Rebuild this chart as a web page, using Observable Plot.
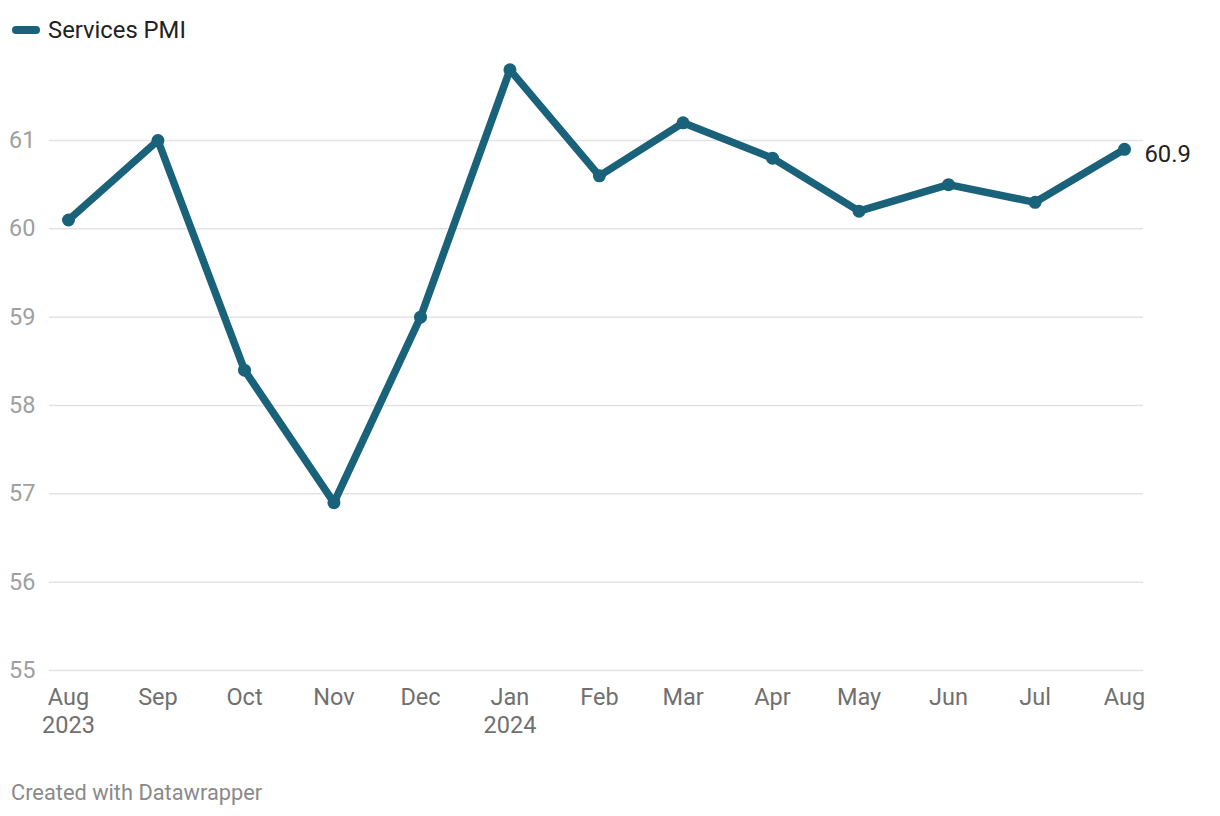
<!DOCTYPE html>
<html>
<head>
<meta charset="utf-8">
<script src="https://cdn.jsdelivr.net/npm/d3@7"></script>
<script src="https://cdn.jsdelivr.net/npm/@observablehq/plot@0.6"></script>
<style>
  html, body { margin: 0; padding: 0; background: #fff; font-family: Roboto, sans-serif; }
  #legend { height: 50px; position: relative; }
  #legend .sw { position: absolute; left: 12px; top: 26px; width: 28px; height: 8px; border-radius: 4px; background: #19627a; }
  #legend .lab { position: absolute; left: 48px; top: 16px; font-size: 23.8px; line-height: 28px; color: #222; }
  #footer { margin-top: 10px; padding-left: 11px; font-size: 21.8px; line-height: 26px; color: #8a8a8a; }
  svg { display: block; }
</style>
</head>
<body>
<div id="legend"><div class="sw"></div><div class="lab">Services PMI</div></div>
<div id="chart"></div>
<div id="footer">Created with Datawrapper</div>
<script>
const months = ["2023-08-01","2023-09-01","2023-10-01","2023-11-01","2023-12-01","2024-01-01","2024-02-01","2024-03-01","2024-04-01","2024-05-01","2024-06-01","2024-07-01","2024-08-01"];
const pmi = [60.1, 61.0, 58.4, 56.9, 59.0, 61.8, 60.6, 61.2, 60.8, 60.2, 60.5, 60.3, 60.9];
const yTicks = [55, 56, 57, 58, 59, 60, 61];
const seriesName = "Services PMI";

const data = months.map((m, i) => ({date: new Date(m + "T00:00:00Z"), value: pmi[i]}));
const last = data[data.length - 1];
const monthFmt = d3.utcFormat("%b");
const tickFmt = d => {
  const m = monthFmt(d);
  if (d.getUTCMonth() === 0 || +d === +data[0].date) return m + "\n" + d.getUTCFullYear();
  return m;
};
const color = "#19627a";

const chart = Plot.plot({
  width: 1220,
  height: 720,
  marginLeft: 49,
  marginRight: 77,
  marginTop: 0,
  marginBottom: 100,
  style: {fontFamily: "Roboto, sans-serif", fontSize: "23.5px", background: "#fff"},
  x: {type: "utc", domain: [data[0].date, last.date], range: [68, 1124], label: null},
  y: {domain: [55, 61], range: [620, 90], label: null},
  marks: [
    Plot.ruleY(yTicks, {stroke: "#e3e3e3", strokeWidth: 1.5}),
    Plot.axisY({ticks: yTicks, tickFormat: d => String(d), label: null, tickSize: 0, tickPadding: 14, fill: "#a0a0a0", fontSize: 23.5, textAnchor: "end"}),
    Plot.axisX({ticks: data.map(d => d.date), tickFormat: tickFmt, label: null, tickSize: 0, tickPadding: 14, fill: "#707070", fontSize: 23.5, lineHeight: 1.2}),
    Plot.line(data, {x: "date", y: "value", stroke: color, strokeWidth: 7.5, strokeLinejoin: "round", strokeLinecap: "round"}),
    Plot.dot(data, {x: "date", y: "value", r: 6.5, fill: color}),
    Plot.text([last], {x: "date", y: "value", text: d => d.value.toFixed(1), textAnchor: "start", dx: 20, dy: 5, fill: "#222", fontSize: 23.8})
  ]
});
document.getElementById("chart").appendChild(chart);
</script>
</body>
</html>
